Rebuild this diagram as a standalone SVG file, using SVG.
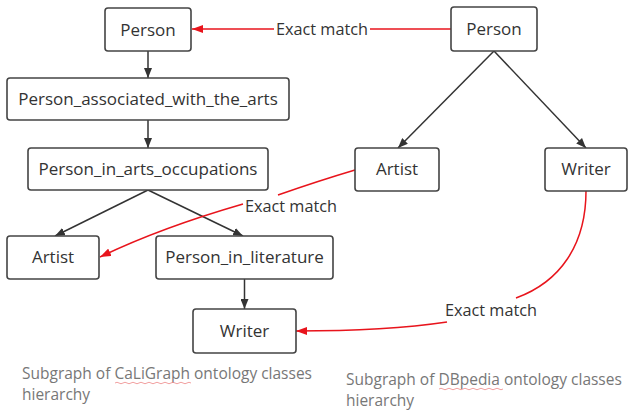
<svg xmlns="http://www.w3.org/2000/svg" width="629" height="411" viewBox="0 0 629 411">
<defs>
<style>
.box{fill:#fff;stroke:#444;stroke-width:1.6}
.lbl{font-family:"Open Sans","Noto Sans",sans-serif;font-size:17px;fill:#333;text-anchor:middle}
.edge{stroke:#333;stroke-width:1.5;fill:none;marker-end:url(#ah)}
.red{stroke:#e8141c;stroke-width:1.5;fill:none}
.redA{marker-end:url(#ahr)}
.elab{font-family:"Open Sans","Noto Sans",sans-serif;font-size:16.3px;fill:#333;text-anchor:middle}
.cap{font-family:"Open Sans","Noto Sans",sans-serif;font-size:15.5px;fill:#777}
.sq{stroke:#e88;stroke-width:0.8;fill:none}
</style>
<marker id="ah" markerWidth="10" markerHeight="8" refX="10" refY="4" orient="auto" markerUnits="userSpaceOnUse"><path d="M0,0 L10,4 L0,8 Z" fill="#333"/></marker>
<marker id="ahr" markerWidth="11" markerHeight="8" refX="11" refY="4" orient="auto" markerUnits="userSpaceOnUse"><path d="M0,0 L11,4 L0,8 Z" fill="#e8141c"/></marker>
</defs>
<rect width="629" height="411" fill="#fff"/>
<g id="connectors">
<path class="edge" d="M148,51 L148,78"/>
<path class="edge" d="M148,120 L148,148"/>
<path class="edge" d="M148,190 L55,236"/>
<path class="edge" d="M148,190 L243,236"/>
<path class="edge" d="M244.5,279 L244.5,309"/>
<path class="edge" d="M494,51 L398,148"/>
<path class="edge" d="M494,51 L586,148"/>
<path class="red" d="M451,29 L370,29"/>
<path class="red redA" d="M274,29 L192,29"/>
<text class="elab" x="322" y="35">Exact match</text>
<path class="red" d="M355,170 Q318,181 278,195"/>
<path class="red redA" d="M243,204 Q160,228 100,257"/>
<text class="elab" x="291" y="212">Exact match</text>
<path class="red" d="M586,191 C586,245 560,282 516,298"/>
<path class="red redA" d="M447,322 C400,329 350,331 296,331"/>
<text class="elab" x="491" y="316">Exact match</text>
</g>
<g id="c_person"><rect class="box" x="105" y="8" width="86" height="43" rx="3"/><text class="lbl" x="148" y="35.5">Person</text></g>
<g id="c_person_arts"><rect class="box" x="7" y="78" width="282" height="42" rx="3"/><text class="lbl" x="148" y="104.5">Person_associated_with_the_arts</text></g>
<g id="c_person_occ"><rect class="box" x="28" y="148" width="240" height="42" rx="3"/><text class="lbl" x="148" y="174.5">Person_in_arts_occupations</text></g>
<g id="c_artist"><rect class="box" x="7" y="236" width="92" height="43" rx="3"/><text class="lbl" x="53" y="263">Artist</text></g>
<g id="c_person_lit"><rect class="box" x="156" y="236" width="177" height="43" rx="3"/><text class="lbl" x="244.5" y="263">Person_in_literature</text></g>
<g id="c_writer"><rect class="box" x="193" y="309" width="103" height="44" rx="3"/><text class="lbl" x="244.5" y="337">Writer</text></g>
<g id="d_person"><rect class="box" x="451" y="7" width="86" height="44" rx="3"/><text class="lbl" x="494" y="35">Person</text></g>
<g id="d_artist"><rect class="box" x="355" y="148" width="84" height="43" rx="3"/><text class="lbl" x="397" y="175">Artist</text></g>
<g id="d_writer"><rect class="box" x="545" y="148" width="82" height="43" rx="3"/><text class="lbl" x="586" y="175">Writer</text></g>
<g id="captions">
<text class="cap" x="22" y="379">Subgraph of CaLiGraph ontology classes</text>
<text class="cap" x="22" y="400">hierarchy</text>
<text class="cap" x="346" y="385">Subgraph of DBpedia ontology classes</text>
<text class="cap" x="346" y="406">hierarchy</text>
<path class="sq" d="M115,383 q2,-1.5 4,0 t4,0 t4,0 t4,0 t4,0 t4,0 t4,0 t4,0 t4,0 t4,0 t4,0 t4,0 t4,0 t4,0 t4,0 t4,0 t4,0 t4,0 t4,0"/>
<path class="sq" d="M439,389 q2,-1.5 4,0 t4,0 t4,0 t4,0 t4,0 t4,0 t4,0 t4,0 t4,0 t4,0 t4,0 t4,0 t4,0 t4,0 t4,0 t4,0"/>
</g>
</svg>
